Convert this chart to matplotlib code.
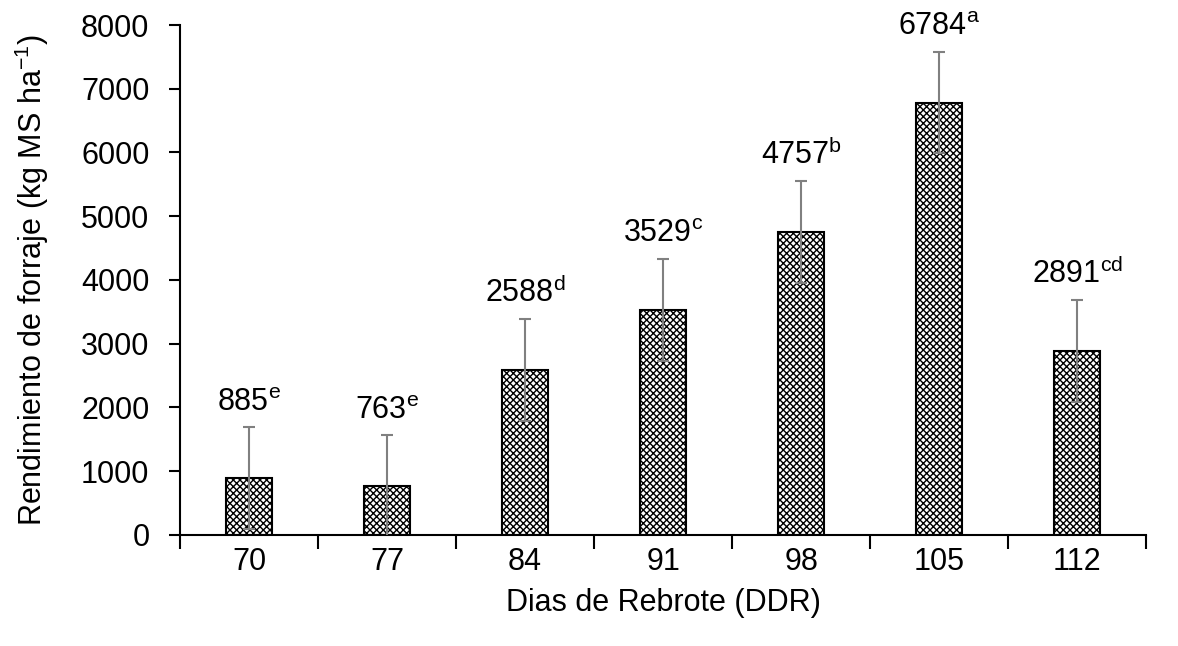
import matplotlib
matplotlib.use("Agg")
import matplotlib.pyplot as plt
import numpy as np

plt.rcParams['font.family'] = ['Liberation Sans', 'DejaVu Sans']
plt.rcParams['mathtext.fontset'] = 'custom'
plt.rcParams['mathtext.rm'] = 'Liberation Sans'
plt.rcParams['hatch.linewidth'] = 1.0

dias = ['70', '77', '84', '91', '98', '105', '112']
rendimiento = [885, 763, 2588, 3529, 4757, 6784, 2891]
error = [800, 800, 800, 800, 800, 800, 800]
letras = ['e', 'e', 'd', 'c', 'b', 'a', 'cd']

fig = plt.figure(figsize=(11.78, 6.46), dpi=100)
ax = fig.add_axes([0.1528, 0.172, 0.8202, 0.7893])

x = np.arange(len(dias))
ax.bar(x, rendimiento, width=0.33, color='white', edgecolor='black',
       linewidth=1.5, hatch='xxxxx', zorder=2)
ax.errorbar(x, rendimiento, yerr=error, fmt='none', ecolor='#808080',
            elinewidth=1.5, capsize=4.5, capthick=1.5, zorder=3)

for xi, v, e, l in zip(x, rendimiento, error, letras):
    ax.annotate(f'{v}$^{{\\mathrm{{{l}}}}}$', (xi, v + e), xytext=(0, 7),
                textcoords='offset points', ha='center', va='bottom', fontsize=22)

ax.set_xlim(-0.5, len(dias) - 0.5)
ax.set_ylim(0, 8000)
ax.set_yticks(range(0, 8001, 1000))
ax.set_xticks(x)
ax.set_xticklabels(dias)
ax.set_xticks(np.arange(-0.5, len(dias)), minor=True)
ax.tick_params(axis='x', which='major', length=0, labelsize=22, pad=9)
ax.tick_params(axis='x', which='minor', length=10, width=1.5, direction='out')
ax.tick_params(axis='y', length=8, width=1.5, labelsize=22, pad=14)

for s in ['top', 'right']:
    ax.spines[s].set_visible(False)
for s in ['left', 'bottom']:
    ax.spines[s].set_linewidth(1.5)

ax.set_ylabel('Rendimiento de forraje (kg MS ha$^{\\mathrm{-1}}$)', fontsize=22, labelpad=22)
ax.set_xlabel('Dias de Rebrote (DDR)', fontsize=22, labelpad=8)

fig.savefig('out.png', dpi=100)
